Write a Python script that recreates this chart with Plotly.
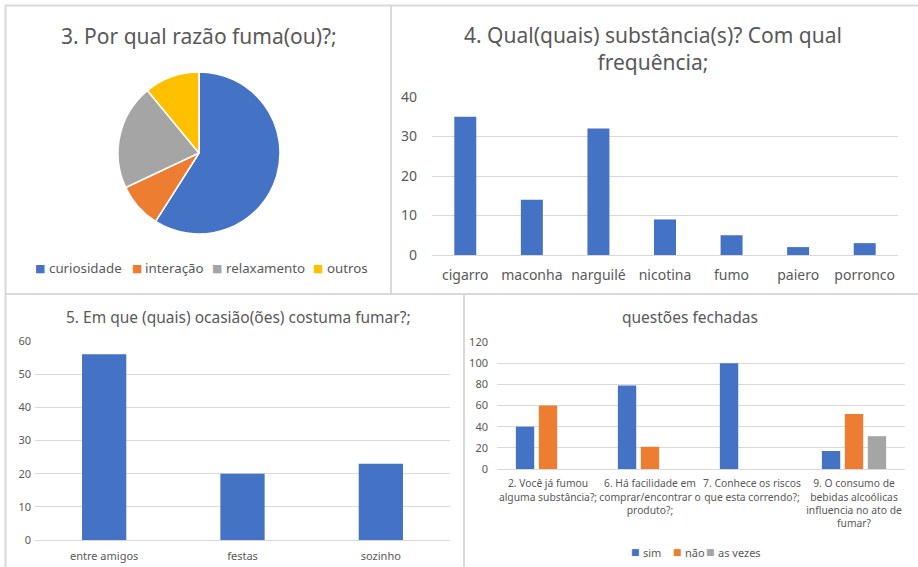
import plotly.graph_objects as go

W, H = 918, 567

# ---- data ----
pie_labels = ["curiosidade", "interação", "relaxamento", "outros"]
pie_values = [59, 9, 21, 11]

subst_cats = ["cigarro", "maconha", "narguilé", "nicotina", "fumo", "paiero", "porronco"]
subst_vals = [35, 14, 32, 9, 5, 2, 3]

ocasiao_cats = ["entre amigos", "festas", "sozinho"]
ocasiao_vals = [56, 20, 23]

fech_cats = [
    "2. Você já fumou<br>alguma substância?;",
    "6. Há facilidade em<br>comprar/encontrar o<br>produto?;",
    "7. Conhece os riscos<br>que esta correndo?;",
    "9. O consumo de<br>bebidas alcoólicas<br>influencia no ato de<br>fumar?",
]
fech_series = ["sim", "não", "as vezes"]
fech_sim = [40, 79, 100, 17]
fech_nao = [60, 21, 0, 52]
fech_vezes = [0, 0, 0, 31]

BLUE, ORANGE, GRAY, YELLOW = "#4472C4", "#ED7D31", "#A5A5A5", "#FFC000"
PIE_COLORS = [BLUE, ORANGE, GRAY, YELLOW]
FECH_COLORS = [BLUE, ORANGE, GRAY]
TXT = "#595959"
GRID = "#D9D9D9"
FONT = "Noto Sans"


def px_x(x):
    return x / W


def px_y(y):
    return 1 - y / H


fig = go.Figure()

# pie
fig.add_trace(go.Pie(
    labels=pie_labels, values=pie_values,
    marker=dict(colors=PIE_COLORS, line=dict(color="white", width=1.5)),
    sort=False, direction="clockwise", rotation=0,
    textinfo="none", hoverinfo="label+value",
    domain=dict(x=[px_x(118), px_x(280)], y=[px_y(234), px_y(72)]),
    showlegend=False,
))

# substances bar
fig.add_trace(go.Bar(x=subst_cats, y=subst_vals, marker_color=BLUE, width=0.33,
                     xaxis="x", yaxis="y", showlegend=False))

# occasions bar
fig.add_trace(go.Bar(x=ocasiao_cats, y=ocasiao_vals, marker_color=BLUE, width=0.32,
                     xaxis="x2", yaxis="y2", showlegend=False))

# closed questions
for name, vals, col, off in zip(fech_series, [fech_sim, fech_nao, fech_vezes], FECH_COLORS,
                                [-0.315, -0.09, 0.135]):
    fig.add_trace(go.Bar(x=fech_cats, y=vals, name=name, marker_color=col, width=0.18, offset=off,
                         xaxis="x3", yaxis="y3", showlegend=False))


def yax(dom, rng, dt, size, standoff):
    return dict(domain=dom, range=rng, dtick=dt, tickfont=dict(size=size, color=TXT),
                gridcolor=GRID, gridwidth=1, showline=False, ticks="", zeroline=True,
                zerolinecolor=GRID, zerolinewidth=1, ticklabelstandoff=standoff, automargin=False)


def xax(dom, size, standoff):
    return dict(domain=dom, type="category", tickfont=dict(size=size, color=TXT), showgrid=False,
                showline=False, ticks="", zeroline=False, tickangle=0, automargin=False,
                ticklabelstandoff=standoff)


fig.update_layout(
    template="none",
    width=W, height=H,
    margin=dict(l=0, r=0, t=0, b=0, autoexpand=False),
    paper_bgcolor="white", plot_bgcolor="white",
    font=dict(family=FONT, color=TXT),
    barmode="overlay",
    showlegend=False,
    xaxis=dict(anchor="y", **xax([px_x(432), px_x(898)], 14, 10)),
    yaxis=dict(anchor="x", **yax([px_y(255), px_y(97)], [0, 40], 10, 14, 14)),
    xaxis2=dict(anchor="y2", **xax([px_x(35), px_x(450)], 11, 8)),
    yaxis2=dict(anchor="x2", **yax([px_y(540), px_y(341)], [0, 60], 10, 11, 3)),
    xaxis3=dict(anchor="y3", **xax([px_x(497), px_x(905)], 10.3, 7)),
    yaxis3=dict(anchor="x3", **yax([px_y(469), px_y(342)], [0, 120], 20, 11, 8)),
)


def ann(text, x, y, size, color=TXT, xanchor="center"):
    fig.add_annotation(text=text, x=px_x(x), y=px_y(y), xref="paper", yref="paper",
                       showarrow=False, font=dict(size=size, color=color),
                       xanchor=xanchor, yanchor="middle")


# titles
ann("3. Por qual razão fuma(ou)?;", 199, 36, 21)
ann("4. Qual(quais) substância(s)? Com qual<br>frequência;", 653, 49, 21)
ann("5. Em que (quais) ocasião(ões) costuma fumar?;", 238, 317, 15.5)
ann("questões fechadas", 690, 317, 15.5)

# legends (marker glyph + label)
pie_marker_x = [40, 137, 217, 318]
pie_text_x = [47, 143, 224, 325]
for lab, col, mx, tx in zip(pie_labels, PIE_COLORS, pie_marker_x, pie_text_x):
    fig.add_annotation(text="■", x=px_x(mx), y=px_y(268), xref="paper", yref="paper",
                       showarrow=False, font=dict(size=11, color=col, family="DejaVu Sans"),
                       xanchor="center", yanchor="middle")
    ann(lab, tx, 268, 13.3, xanchor="left")

fech_marker_x = [635, 677, 710]
fech_text_x = [641, 683, 716]
for lab, col, mx, tx in zip(fech_series, FECH_COLORS, fech_marker_x, fech_text_x):
    fig.add_annotation(text="■", x=px_x(mx), y=px_y(552), xref="paper", yref="paper",
                       showarrow=False, font=dict(size=9, color=col, family="DejaVu Sans"),
                       xanchor="center", yanchor="middle")
    ann(lab, tx, 552, 11, xanchor="left")

# panel borders
BORDER = "#D9D9D9"
lines = [
    (5, 5.5, 918, 5.5),
    (5.5, 5, 5.5, 567),
    (391, 5, 391, 294),
    (5, 294, 918, 294),
    (464, 294, 464, 567),
]
for x0, y0, x1, y1 in lines:
    fig.add_shape(type="line", xref="paper", yref="paper",
                  x0=px_x(x0), y0=px_y(y0), x1=px_x(x1), y1=px_y(y1),
                  line=dict(color=BORDER, width=2))

fig.write_html("out.html", config={"displayModeBar": False},
               post_script="document.body.style.margin='0';document.body.style.overflow='hidden';")
